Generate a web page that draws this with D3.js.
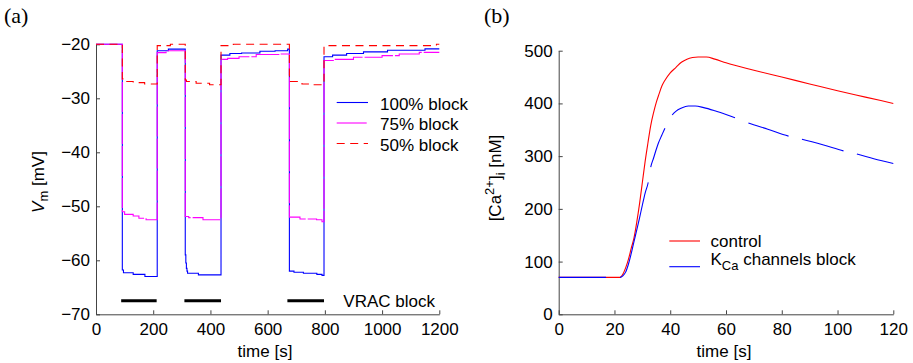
<!DOCTYPE html>
<html>
<head>
<meta charset="utf-8">
<script src="https://cdn.jsdelivr.net/npm/d3@7"></script>
<style>
  html, body { margin: 0; padding: 0; background: #fff; }
  svg { display: block; }
  text { font-family: "Liberation Sans", Arial, Helvetica, sans-serif; fill: #000; }
</style>
</head>
<body>
<div id="chart"></div>
<script>
// ---------- Panel (a): membrane potential under partial VRAC block ----------
const timeTicksA = [0, 200, 400, 600, 800, 1000, 1200];
const vmTicks = [-70, -60, -50, -40, -30, -20];

// 100% block
const block100Time = [0, 92, 96, 130, 171, 214, 253, 312, 314, 316, 318, 320, 358, 437, 468, 509, 573, 626, 670, 676, 692, 725, 772, 790, 797, 827, 876, 935, 1019, 1150, 1200];
const block100Vm   = [-20, -61.8, -62.3, -62.6, -63.0, -21.2, -20.9, -59.0, -60.5, -61.5, -62.0, -62.4, -62.7, -22.0, -21.7, -21.6, -21.3, -21.2, -20.9, -62.0, -62.2, -62.4, -62.6, -62.8, -22.3, -22.0, -21.7, -21.4, -21.1, -20.85, -20.85];

// 75% block
const block75Time = [0, 92, 100, 130, 150, 175, 214, 245, 312, 324, 374, 437, 460, 500, 560, 640, 676, 713, 771, 790, 797, 830, 900, 1000, 1060, 1130, 1200];
const block75Vm   = [-20, -51.0, -51.5, -51.8, -52.2, -52.5, -21.55, -21.2, -51.9, -52.1, -52.5, -22.8, -22.6, -22.3, -21.9, -21.8, -52.0, -52.35, -52.5, -52.85, -23.0, -22.8, -22.4, -22.1, -21.8, -21.5, -21.5];

// 50% block
const block50Time = [0, 92, 96, 100, 130, 170, 214, 260, 312, 316, 350, 397, 437, 480, 676, 720, 760, 797, 1190, 1200];
const block50Vm   = [-20, -26.4, -26.7, -26.9, -27.1, -27.35, -20.25, -20.0, -26.6, -26.9, -27.2, -27.5, -20.25, -20.0, -26.9, -27.35, -27.5, -20.25, -20.0, -20.0];

// periods of VRAC block [start, end] in s
const vracStart = [88, 309, 669];
const vracEnd   = [212, 437, 797];
const vracLevel = -67.5;

// ---------- Panel (b): intracellular calcium ----------
const timeTicksB = [0, 20, 40, 60, 80, 100, 120];
const caTicks = [0, 100, 200, 300, 400, 500];

const controlTime = [0, 22, 23, 24, 25, 26, 27, 28, 29, 30, 31, 32, 33, 34, 35, 36, 37, 38, 40, 42, 44, 46, 48, 50, 53, 56, 60, 70, 80, 90, 100, 110, 120];
const controlCa   = [70, 70, 76, 88, 104, 125, 145, 175, 210, 250, 290, 325, 358, 382, 402, 418, 433, 443, 458, 468, 478, 484, 487, 488, 488, 484, 477, 463, 450, 437, 424, 412, 400];

const kcaTime = [0, 17, 22, 23, 24, 25, 26, 27, 28, 29, 30, 31, 32.1, 33, 34, 35, 35.7, 37, 38.1, 40.7, 42, 44, 46.5, 49, 52, 56, 60, 63.2, 68, 75, 82.4, 87.2, 95, 102.1, 106.9, 113, 120];
const kcaCa   = [70, 70, 70, 73, 80, 95, 115, 138, 160, 183, 207, 230, 250, 279, 296, 313, 324, 340, 353, 378, 385, 391, 395, 395, 392, 386, 379, 373, 363, 351, 338, 332, 321, 310, 304, 295, 286];
// times where the dashed K_Ca trace switches off / on
const kcaDashBreaks = [17, 22, 32.1, 33, 38.1, 40.7, 63.2, 68, 82.4, 87.2, 102.1, 106.9];

const W = 913, H = 363;
const FS = 17;

const svg = d3.select("#chart").append("svg")
  .attr("width", W).attr("height", H)
  .attr("viewBox", `0 0 ${W} ${H}`);

function zip(ts, vs) { return ts.map((t, i) => ({ t, v: vs[i] })); }

function styleAxis(g) {
  g.attr("font-size", null).attr("font-family", null);
  g.selectAll("text").style("font-size", FS + "px");
  g.select(".domain").attr("stroke", "#444").attr("stroke-width", 1);
  g.selectAll(".tick line").attr("stroke", "#444");
}

// ================= Panel (a) =================
const xA = d3.scaleLinear().domain([0, 1200]).range([96, 439.3]);
const yA = d3.scaleLinear().domain([-70, -20]).range([314.3, 44.3]);

svg.append("g")
  .attr("transform", `translate(0,${yA(-70)})`)
  .call(d3.axisBottom(xA).tickValues(timeTicksA).tickFormat(d3.format("d"))
    .tickSizeInner(-4).tickSizeOuter(0).tickPadding(9))
  .call(styleAxis);

svg.append("g")
  .attr("transform", `translate(${xA(0)},0)`)
  .call(d3.axisLeft(yA).tickValues(vmTicks).tickFormat(d3.format("d"))
    .tickSizeInner(-4).tickSizeOuter(0).tickPadding(6))
  .call(styleAxis);

const lineA = d3.line().x(d => xA(d.t)).y(d => yA(d.v)).curve(d3.curveStepAfter);

const seriesA = [
  { name: "100% block", data: zip(block100Time, block100Vm), color: "#0000ff", dash: null },
  { name: "75% block",  data: zip(block75Time, block75Vm),   color: "#ff00ff", dash: "30,2" },
  { name: "50% block",  data: zip(block50Time, block50Vm),   color: "#ff0000", dash: "8,5.5" }
];

svg.append("g").selectAll("path")
  .data(seriesA).join("path")
  .attr("d", d => lineA(d.data))
  .attr("fill", "none")
  .attr("stroke", d => d.color)
  .attr("stroke-width", 1.1)
  .attr("stroke-dasharray", d => d.dash);

// VRAC block bars
svg.append("g").selectAll("line")
  .data(vracStart.map((s, i) => [s, vracEnd[i]])).join("line")
  .attr("x1", d => xA(d[0])).attr("x2", d => xA(d[1]))
  .attr("y1", yA(vracLevel)).attr("y2", yA(vracLevel))
  .attr("stroke", "#000").attr("stroke-width", 3);

svg.append("text").attr("x", 343.3).attr("y", 306.5)
  .style("font-size", FS + "px").text("VRAC block");

// legend (a)
const legA = svg.append("g");
seriesA.forEach((s, i) => {
  const y = 102.5 + i * 20.5;
  legA.append("line").attr("x1", 336.7).attr("x2", 368).attr("y1", y).attr("y2", y)
    .attr("stroke", s.color).attr("stroke-width", 1.1).attr("stroke-dasharray", s.dash);
  legA.append("text").attr("x", 380).attr("y", y + 7)
    .style("font-size", FS + "px").text(s.name);
});

// axis titles (a)
svg.append("text").attr("x", 265).attr("y", 357).attr("text-anchor", "middle")
  .style("font-size", FS + "px").text("time [s]");

const ylabA = svg.append("text")
  .attr("transform", "translate(44,182) rotate(-90)")
  .attr("text-anchor", "middle")
  .style("font-size", FS + "px");
ylabA.append("tspan").style("font-style", "italic").text("V");
ylabA.append("tspan").attr("dy", 4).style("font-size", "13px").text("m");
ylabA.append("tspan").attr("dy", -4).text(" [mV]");

svg.append("text").attr("x", 4).attr("y", 23)
  .style("font-family", "'Liberation Serif', 'Times New Roman', serif")
  .style("font-size", "22px").text("(a)");

// ================= Panel (b) =================
const xB = d3.scaleLinear().domain([0, 120]).range([558.7, 893.3]);
const yB = d3.scaleLinear().domain([0, 500]).range([314.3, 50.7]);

svg.append("g")
  .attr("transform", `translate(0,${yB(0)})`)
  .call(d3.axisBottom(xB).tickValues(timeTicksB).tickFormat(d3.format("d"))
    .tickSizeInner(-4).tickSizeOuter(0).tickPadding(9))
  .call(styleAxis);

svg.append("g")
  .attr("transform", `translate(${xB(0)},0)`)
  .call(d3.axisLeft(yB).tickValues(caTicks).tickFormat(d3.format("d"))
    .tickSizeInner(-4).tickSizeOuter(0).tickPadding(6))
  .call(styleAxis);

const lineB = d3.line().x(d => xB(d.t)).y(d => yB(d.v)).curve(d3.curveMonotoneX);

const controlData = zip(controlTime, controlCa);
const kcaData = zip(kcaTime, kcaCa);

svg.append("path")
  .attr("d", lineB(controlData))
  .attr("fill", "none").attr("stroke", "#ff0000").attr("stroke-width", 1.1);

// dash pattern of the K_Ca trace, measured along the path itself
const gB = svg.append("g");
function lengthUpTo(t) {
  const p = gB.append("path").attr("d", lineB(kcaData.filter(d => d.t <= t)));
  const L = p.node().getTotalLength();
  p.remove();
  return L;
}
const breakLengths = kcaDashBreaks.map(lengthUpTo);
const kcaDash = breakLengths.map((L, i) => i === 0 ? L : L - breakLengths[i - 1]);
kcaDash.push(2000, 0);

gB.append("path")
  .attr("d", lineB(kcaData))
  .attr("fill", "none").attr("stroke", "#0000ff").attr("stroke-width", 1.1)
  .attr("stroke-dasharray", kcaDash.map(v => v.toFixed(2)).join(","));

// legend (b)
const legB = svg.append("g");
legB.append("line").attr("x1", 669.3).attr("x2", 700).attr("y1", 241).attr("y2", 241)
  .attr("stroke", "#ff0000").attr("stroke-width", 1.1);
legB.append("text").attr("x", 710.5).attr("y", 246.5)
  .style("font-size", FS + "px").text("control");
legB.append("line").attr("x1", 669.3).attr("x2", 700).attr("y1", 266.7).attr("y2", 266.7)
  .attr("stroke", "#0000ff").attr("stroke-width", 1.1);
const kcaLabel = legB.append("text").attr("x", 710.5).attr("y", 265)
  .style("font-size", FS + "px");
kcaLabel.append("tspan").text("K");
kcaLabel.append("tspan").attr("dy", 5).style("font-size", "13px").text("Ca");
kcaLabel.append("tspan").attr("dy", -5).text(" channels block");

// axis titles (b)
svg.append("text").attr("x", 724).attr("y", 357).attr("text-anchor", "middle")
  .style("font-size", FS + "px").text("time [s]");

const ylabB = svg.append("text")
  .attr("transform", "translate(501,178) rotate(-90)")
  .attr("text-anchor", "middle")
  .style("font-size", FS + "px");
ylabB.append("tspan").text("[Ca");
ylabB.append("tspan").attr("dy", -7).style("font-size", "13px").text("2+");
ylabB.append("tspan").attr("dy", 7).text("]");
ylabB.append("tspan").attr("dy", 4).style("font-size", "13px").text("i");
ylabB.append("tspan").attr("dy", -4).text(" [nM]");

svg.append("text").attr("x", 484).attr("y", 23)
  .style("font-family", "'Liberation Serif', 'Times New Roman', serif")
  .style("font-size", "22px").text("(b)");
</script>
</body>
</html>
